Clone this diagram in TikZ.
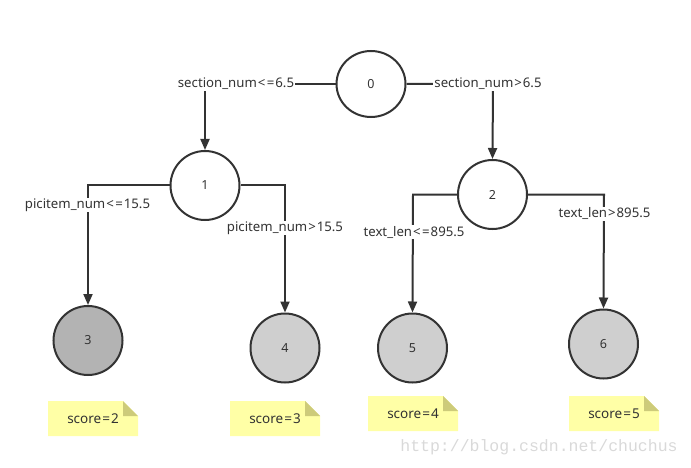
\documentclass[tikz,border=0pt]{standalone}
\usepackage{fontspec}
\setmainfont{Noto Sans}
\newfontfamily\wmfont{Liberation Mono}
\usetikzlibrary{arrows.meta,shapes.geometric}
\definecolor{ink}{HTML}{333333}
\definecolor{leafA}{HTML}{B3B3B3}
\definecolor{leafB}{HTML}{CFCFCF}
\definecolor{notefill}{HTML}{FFFFA6}
\definecolor{foldfill}{HTML}{CDCB7A}
\definecolor{wm}{HTML}{D9D9D9}
\newcommand{\lessq}{\kern1pt<\kern1.5pt=\kern1pt}
\newcommand{\grt}{\kern1pt>\kern1pt}
\newcommand{\eqs}{\kern1pt=\kern1pt}
\tikzset{
  tnode/.style={ellipse, draw=ink, line width=2pt, minimum width=69pt, minimum height=69pt, inner sep=0pt, text=ink, font=\fontsize{12.5}{14}\selectfont},
  leaf/.style={tnode, fill=leafB},
  cond/.style={fill=white, inner sep=1pt, text=ink, font=\fontsize{13.2}{15}\selectfont},
  conn/.style={draw=ink, line width=2pt},
  arr/.style={conn, -{Triangle[length=11pt,width=9pt]}},
  note/.style={minimum width=90pt, minimum height=35pt, inner sep=0pt, text=ink,
    font=\fontsize{13.5}{15}\selectfont,
    path picture={
      \fill[notefill] (path picture bounding box.south west) -- (path picture bounding box.south east)
        -- ([yshift=-15pt]path picture bounding box.north east) -- ([xshift=-15pt]path picture bounding box.north east)
        -- (path picture bounding box.north west) -- cycle;
      \fill[foldfill] ([xshift=-15pt]path picture bounding box.north east) -- ([xshift=-15pt,yshift=-15pt]path picture bounding box.north east)
        -- ([yshift=-15pt]path picture bounding box.north east) -- cycle;
    }}
}
\begin{document}
\begin{tikzpicture}[x=1pt,y=-1pt]
\useasboundingbox (0,0) rectangle (691,468);
% tree nodes
\node[tnode, minimum height=66pt] (n0) at (371,84) {0};
\node[tnode] (n1) at (205,185.5) {1};
\node[tnode] (n2) at (492.5,194.5) {2};
\node[tnode, fill=leafA] (n3) at (88,340.5) {3};
\node[leaf] (n4) at (285,348) {4};
\node[leaf] (n5) at (412.5,348) {5};
\node[leaf] (n6) at (603.5,344) {6};
% corners
\coordinate (c01) at (205,84);
\coordinate (c02) at (493,84);
\coordinate (c13) at (88,185.5);
\coordinate (c14) at (285,185.5);
\coordinate (c25) at (413,194.5);
\coordinate (c26) at (604,194.5);
% connectors
\draw[arr] (n0.west) -- (c01) -- (n1.north);
\draw[arr] (n0.east) -- (c02) -- (n2.north);
\draw[arr] (n1.west) -- (c13) -- (n3.north);
\draw[arr] (n1.east) -- (c14) -- (n4.north);
\draw[arr] (n2.west) -- (c25) -- (n5.north);
\draw[arr] (n2.east) -- (c26) -- (n6.north);
% condition labels
\node[cond] (l01) at (236,84) {section\_num\lessq6.5};
\node[cond] (l02) at (488,84) {section\_num\grt6.5};
\node[cond] (l13) at (87.5,205) {picitem\_num\lessq15.5};
\node[cond] (l14) at (285,228) {picitem\_num\grt15.5};
\node[cond] (l25) at (414,232) {text\_len\lessq895.5};
\node[cond] (l26) at (604.5,214) {text\_len\grt895.5};
% notes
\node[note] (s3) at (93,418.5) {score\eqs2};
\node[note] (s4) at (275,418.5) {score\eqs3};
\node[note] (s5) at (413,413.5) {score\eqs4};
\node[note] (s6) at (614,413.5) {score\eqs5};
% watermark
\node[text=wm, font=\wmfont\fontsize{16.5}{18}\selectfont, inner sep=0pt] (wmk) at (539,447) {http://blog.csdn.net/chuchus};
\end{tikzpicture}
\end{document}
